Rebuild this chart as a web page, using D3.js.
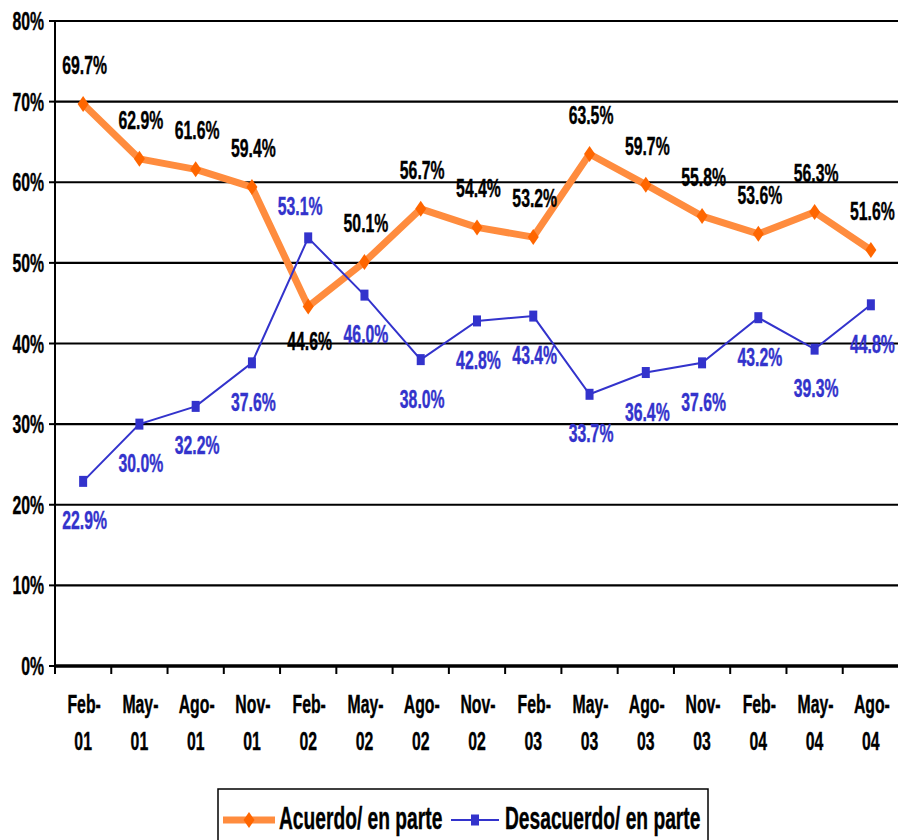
<!DOCTYPE html>
<html>
<head>
<meta charset="utf-8">
<script src="https://cdn.jsdelivr.net/npm/d3@7"></script>
<style>
  body { margin: 0; background: #fff; }
  svg { display: block; }
  text { font-family: "Liberation Sans", Arial, sans-serif; font-weight: bold; }
</style>
</head>
<body>
<svg id="chart" width="898" height="840"></svg>
<script>
// categories and series (percent)
var periods = ["Feb-01", "May-01", "Ago-01", "Nov-01", "Feb-02", "May-02", "Ago-02", "Nov-02",
               "Feb-03", "May-03", "Ago-03", "Nov-03", "Feb-04", "May-04", "Ago-04"];
var acuerdo = [69.7, 62.9, 61.6, 59.4, 44.6, 50.1, 56.7, 54.4, 53.2, 63.5, 59.7, 55.8, 53.6, 56.3, 51.6];
var desacuerdo = [22.9, 30.0, 32.2, 37.6, 53.1, 46.0, 38.0, 42.8, 43.4, 33.7, 36.4, 37.6, 43.2, 39.3, 44.8];
var yTicks = [0, 10, 20, 30, 40, 50, 60, 70, 80];
var seriesNames = ["Acuerdo/ en parte", "Desacuerdo/ en parte"];
// periods where the labels swap sides
var swapped = ["Feb-02"];

var svg = d3.select("#chart");
var ORANGE = "#ff6600", ORANGE_LINE = "#ff8c3e", BLUE = "#3333cc";
var SX = 0.62; // horizontal squeeze of the text, as in the picture
var DIAMOND = "M0,-8L5.5,0L0,8L-5.5,0Z";

var x = d3.scaleBand().domain(periods).range([55, 899]);
var y = d3.scaleLinear().domain([0, 80]).range([666, 21]);
var cx = function (p) { return x(p) + x.bandwidth() / 2; };

// squeezed text helper
function label(g, tx, ty, str, anchor, size, color) {
    return g.append("text")
        .attr("transform", "translate(" + tx + "," + ty + ") scale(" + SX + ",1)")
        .attr("text-anchor", anchor)
        .style("font-size", size + "px")
        .style("fill", color || "#000")
        .style("stroke", color || "#000")
        .style("stroke-width", 0.4)
        .text(str);
}

// gridlines
svg.append("g").selectAll("line")
    .data(yTicks.filter(function (t) { return t > 0; }))
    .enter().append("line")
    .attr("x1", 55).attr("x2", 898)
    .attr("y1", function (d) { return y(d); })
    .attr("y2", function (d) { return y(d); })
    .attr("stroke", "#000").attr("stroke-width", 2.2);

// y axis
var yAxis = svg.append("g");
yAxis.append("line").attr("x1", 55).attr("x2", 55).attr("y1", y(80)).attr("y2", y(0))
    .attr("stroke", "#000").attr("stroke-width", 2);
yTicks.forEach(function (t) {
    yAxis.append("line").attr("x1", 49).attr("x2", 55).attr("y1", y(t)).attr("y2", y(t))
        .attr("stroke", "#000").attr("stroke-width", 2);
    label(yAxis, 44, y(t) + 9, t + "%", "end", 25.5);
});

// x axis
var xAxis = svg.append("g");
xAxis.append("line").attr("x1", 55).attr("x2", 898).attr("y1", y(0)).attr("y2", y(0))
    .attr("stroke", "#000").attr("stroke-width", 3.5);
periods.forEach(function (p) {
    xAxis.append("line").attr("x1", x(p)).attr("x2", x(p)).attr("y1", y(0)).attr("y2", y(0) + 8)
        .attr("stroke", "#000").attr("stroke-width", 2);
    var parts = p.split("-");
    label(xAxis, cx(p) + 1, 713, parts[0] + "-", "middle", 25.5);
    label(xAxis, cx(p), 750, parts[1], "middle", 25.5);
});

var line = d3.line()
    .x(function (d, i) { return cx(periods[i]); })
    .y(function (d) { return y(d); });

// Acuerdo series
svg.append("path").datum(acuerdo)
    .attr("d", line).attr("fill", "none")
    .attr("stroke", ORANGE_LINE).attr("stroke-width", 7).attr("stroke-linejoin", "round");
svg.append("g").selectAll("path")
    .data(acuerdo).enter().append("path")
    .attr("d", DIAMOND)
    .attr("transform", function (d, i) { return "translate(" + cx(periods[i]) + "," + y(d) + ")"; })
    .attr("fill", ORANGE);

// Desacuerdo series
svg.append("path").datum(desacuerdo)
    .attr("d", line).attr("fill", "none")
    .attr("stroke", BLUE).attr("stroke-width", 2);
svg.append("g").selectAll("rect")
    .data(desacuerdo).enter().append("rect")
    .attr("x", function (d, i) { return cx(periods[i]) - 4; })
    .attr("y", function (d) { return y(d) - 5.5; })
    .attr("width", 8).attr("height", 11)
    .attr("fill", BLUE);

// data labels
var labels = svg.append("g");
acuerdo.forEach(function (v, i) {
    var p = periods[i];
    var dy = swapped.indexOf(p) >= 0 ? 35 : -39;
    label(labels, cx(p) + 1.5, y(v) + dy + 9, v.toFixed(1) + "%", "middle", 25.5, "#000");
});
desacuerdo.forEach(function (v, i) {
    var p = periods[i];
    var sw = swapped.indexOf(p) >= 0;
    var dy = sw ? -32 : 39;
    label(labels, cx(p) + (sw ? -8 : 1.5), y(v) + dy + 9, v.toFixed(1) + "%", "middle", 25.5, BLUE);
});

// legend
var lg = svg.append("g");
lg.append("rect").attr("x", 218).attr("y", 789).attr("width", 490).attr("height", 70)
    .attr("fill", "#fff").attr("stroke", "#000").attr("stroke-width", 1.5);
lg.append("line").attr("x1", 223).attr("x2", 275).attr("y1", 820).attr("y2", 820)
    .attr("stroke", ORANGE_LINE).attr("stroke-width", 7);
lg.append("path").attr("d", DIAMOND)
    .attr("transform", "translate(249,820)").attr("fill", ORANGE);
label(lg, 279, 829, seriesNames[0], "start", 31);
lg.append("line").attr("x1", 451).attr("x2", 499).attr("y1", 820).attr("y2", 820)
    .attr("stroke", BLUE).attr("stroke-width", 2);
lg.append("rect").attr("x", 471).attr("y", 814.5).attr("width", 8).attr("height", 11).attr("fill", BLUE);
label(lg, 505, 829, seriesNames[1], "start", 31);
</script>
</body>
</html>
